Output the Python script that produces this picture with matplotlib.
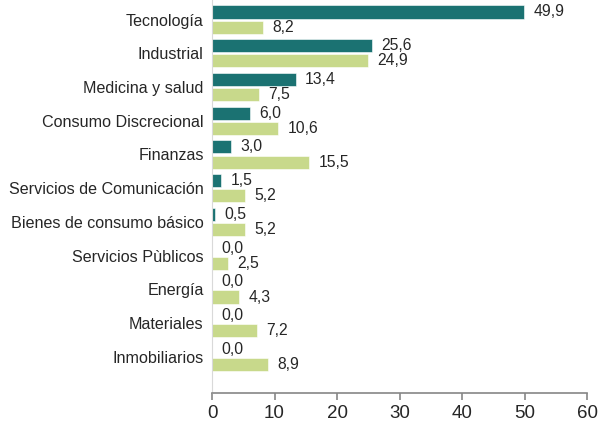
import numpy as np
import matplotlib.pyplot as plt

plt.rcParams['font.family'] = ['Liberation Sans', 'DejaVu Sans']

categories = ["Tecnología", "Industrial", "Medicina y salud", "Consumo Discrecional",
              "Finanzas", "Servicios de Comunicación", "Bienes de consumo básico",
              "Servicios Pùblicos", "Energía", "Materiales", "Inmobiliarios"]
serie_a = [49.9, 25.6, 13.4, 6.0, 3.0, 1.5, 0.5, 0.0, 0.0, 0.0, 0.0]
serie_b = [8.2, 24.9, 7.5, 10.6, 15.5, 5.2, 5.2, 2.5, 4.3, 7.2, 8.9]

c_dark = "#1b7272"
c_light = "#c8d98b"

fig = plt.figure(figsize=(5.99, 4.23), dpi=100)
ax = fig.add_axes([0.354, 0.071, 0.626, 0.929])

y = np.arange(len(categories))
h = 0.39
off = 0.225
ax.barh(y - off, serie_a, height=h, color=c_dark, edgecolor="white", linewidth=0.4)
ax.barh(y + off, serie_b, height=h, color=c_light, edgecolor="white", linewidth=0.4)

for yi, v in zip(y, serie_a):
    ax.text(v + 1.5, yi - off, f"{v:.1f}".replace(".", ","), va="center", ha="left",
            fontsize=11.3, color="#262626")
for yi, v in zip(y, serie_b):
    ax.text(v + 1.5, yi + off, f"{v:.1f}".replace(".", ","), va="center", ha="left",
            fontsize=11.3, color="#262626")

ax.set_yticks(y)
ax.set_yticklabels(categories, fontsize=11.6, color="#262626")
ax.tick_params(axis="y", length=0, pad=6)
ax.set_ylim(11.07, -0.58)

ax.set_xlim(0, 60)
ax.set_xticks(np.arange(0, 61, 10))
ax.tick_params(axis="x", labelsize=13.5, colors="#868686", length=5, width=1.2,
               direction="out", pad=4, labelcolor="#262626")

for s in ["top", "right"]:
    ax.spines[s].set_visible(False)
ax.spines["left"].set_color("#d9d9d9")
ax.spines["left"].set_linewidth(0.8)
ax.spines["bottom"].set_color("#868686")
ax.spines["bottom"].set_linewidth(1.2)

fig.savefig("out.png", dpi=100)
